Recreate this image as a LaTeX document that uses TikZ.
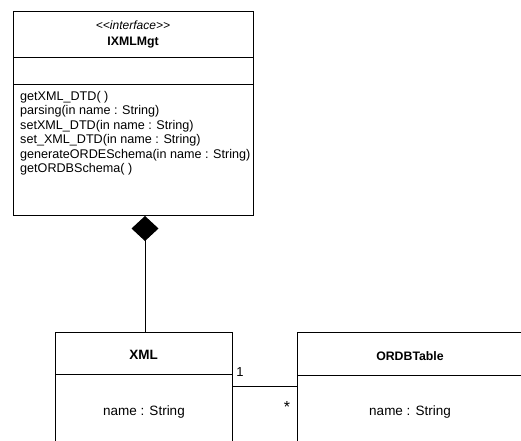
\documentclass[tikz,border=0pt]{standalone}
\usepackage{fontspec}
\setmainfont{Liberation Sans}[Ligatures=TeXOff]
\usetikzlibrary{arrows.meta,calc}
\begin{document}
\begin{tikzpicture}[x=1pt,y=-1pt,
  classbox/.style={draw,line width=1pt,anchor=north west,inner sep=0pt},
  compline/.style={line width=1pt},
  conn/.style={line width=1pt},
  txt/.style={font=\fontsize{12.6}{14.5}\selectfont,inner sep=0pt},
  attr/.style={font=\fontsize{13.5}{15}\selectfont,inner sep=0pt},
  title/.style={font=\fontsize{12.3}{14}\selectfont\bfseries,inner sep=0pt},
  mult/.style={font=\fontsize{13}{14}\selectfont,inner sep=0pt}]
\useasboundingbox (0,0) rectangle (521,440);
\clip (0,0) rectangle (521,440);

% interface IXMLMgt
\node[classbox,minimum width=240pt,minimum height=204pt] (imgt) at (13,11) {};
\draw[compline] (13,57) -- (253,57);
\draw[compline] (13,84) -- (253,84);
\node[font=\fontsize{12}{14}\selectfont\itshape,inner sep=0pt] (stereo) at (133,25) {<<interface>>};
\node[title] (imgtname) at (133,43) {IXMLMgt};
\node[txt,anchor=north west,align=left] (ops) at (20,91)
  {getXML\_DTD( )\\
   parsing(in name : String)\\
   setXML\_DTD(in name : String)\\
   set\_XML\_DTD(in name : String)\\
   generateORDESchema(in name : String)\\
   getORDBSchema( )};

% class XML
\node[classbox,minimum width=177pt,minimum height=140pt] (xml) at (55,332) {};
\draw[compline] (55,374) -- (232,374);
\node[title,font=\fontsize{13.5}{15}\selectfont\bfseries] (xmlname) at (143.5,355) {XML};
\node[attr] (xmlattr) at (144,412) {name : String};

% class ORDBTable
\node[classbox,minimum width=280pt,minimum height=140pt] (ordb) at (297,332) {};
\draw[compline] (297,375) -- (577,375);
\node[title] (ordbname) at (410,356) {ORDBTable};
\node[attr] (ordbattr) at (410,412) {name : String};

% composition: IXMLMgt owns XML
\coordinate (compx) at (145,0);
\draw[conn,{Diamond[length=25pt,width=27pt]}-] (imgt.south -| compx) -- (xml.north -| compx);

% association XML 1 -- * ORDBTable
\coordinate (assoc) at (0,386);
\draw[conn] (xml.east |- assoc) -- (ordb.west |- assoc);
\node[mult] (one) at (240,372) {1};
\node[mult,font=\fontsize{16}{16}\selectfont] (many) at (287,407) {*};
\end{tikzpicture}
\end{document}
